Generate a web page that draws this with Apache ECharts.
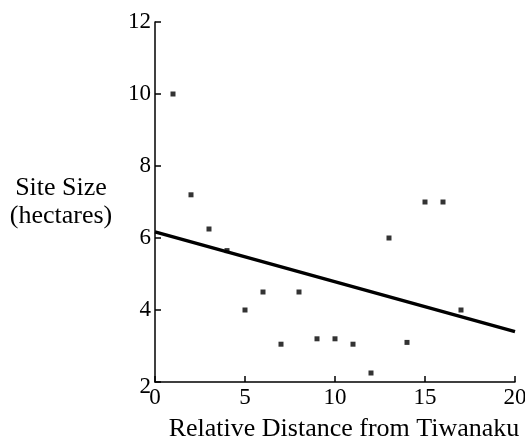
<!DOCTYPE html>
<html>
<head>
<meta charset="utf-8">
<script src="https://cdn.jsdelivr.net/npm/echarts@6/dist/echarts.min.js"></script>
<style>
  html, body { margin: 0; padding: 0; background: #fff; }
  #chart { width: 525px; height: 440px; }
</style>
</head>
<body>
<div id="chart"></div>
<script>
// site sizes (hectares) by relative distance from Tiwanaku
const distance = [1, 2, 3, 4, 5, 6, 7, 8, 9, 10, 11, 12, 13, 14, 15, 16, 17]
const siteSize = [10.0, 7.2, 6.25, 5.65, 4.0, 4.5, 3.05, 4.5, 3.2, 3.2, 3.05, 2.25, 6.0, 3.1, 7.0, 7.0, 4.0]
// regression line end points
const fitX = [0, 20]
const fitY = [6.17, 3.4]

const xTicks = [0, 5, 10, 15, 20]
const yTicks = [2, 4, 6, 8, 10, 12]

const FONT = 'Liberation Serif'
const INK = '#000'

const chart = echarts.init(document.getElementById('chart'), null, { renderer: 'canvas' })

chart.setOption({
  animation: false,
  backgroundColor: '#fff',
  grid: { left: 155, right: 10, top: 22, bottom: 58, containLabel: false, outerBoundsMode: 'none' },
  xAxis: {
    type: 'value', min: xTicks[0], max: xTicks[xTicks.length - 1], interval: 5,
    name: 'Relative Distance from Tiwanaku', nameLocation: 'middle', nameGap: 34,
    nameTextStyle: { fontFamily: FONT, fontSize: 26, color: INK, padding: [0, 0, 0, 18] },
    axisLine: { lineStyle: { color: INK, width: 1.5 } },
    axisTick: { inside: true, length: 6, lineStyle: { color: INK, width: 1.5 } },
    axisLabel: { fontFamily: FONT, fontSize: 23, color: INK, margin: 4 },
    splitLine: { show: false },
  },
  yAxis: {
    type: 'value', min: yTicks[0], max: yTicks[yTicks.length - 1], interval: 2,
    name: 'Site Size\n(hectares)', nameLocation: 'middle', nameGap: 94, nameRotate: 0,
    nameTextStyle: { fontFamily: FONT, fontSize: 26, color: INK, align: 'center', lineHeight: 28 },
    axisLine: { lineStyle: { color: INK, width: 1.5 } },
    axisTick: { inside: true, length: 6, lineStyle: { color: INK, width: 1.5 } },
    axisLabel: {
      fontFamily: FONT, fontSize: 23, color: INK, margin: 4,
      formatter: (v) => (v === yTicks[0] ? '{low|' + v + '}' : String(v)),
      rich: { low: { fontFamily: FONT, fontSize: 23, color: INK, padding: [10, 0, 0, 0] } },
    },
    splitLine: { show: false },
  },
  series: [
    {
      type: 'scatter', symbol: 'rect', symbolSize: 5,
      itemStyle: { color: INK },
      data: distance.map((d, i) => [d, siteSize[i]]),
    },
    {
      type: 'line', showSymbol: false, symbol: 'none',
      lineStyle: { color: INK, width: 3.5 },
      data: fitX.map((d, i) => [d, fitY[i]]),
    },
  ],
})
</script>
</body>
</html>
